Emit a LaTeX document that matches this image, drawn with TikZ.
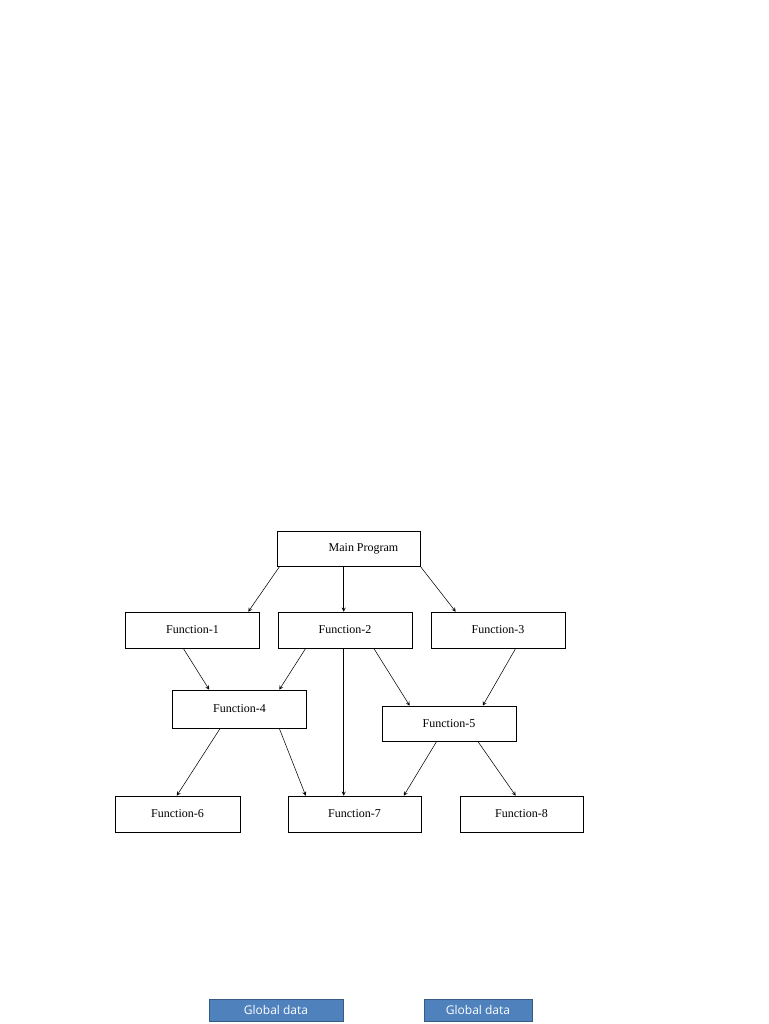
\documentclass[tikz,border=0pt]{standalone}
\usepackage{fontspec}
\setmainfont{Liberation Serif}
\newfontfamily\guifont{Open Sans}
\usetikzlibrary{positioning, calc}
\definecolor{gblue}{RGB}{79,129,189}
\begin{document}
\begin{tikzpicture}[x=0.75pt,y=-0.75pt,
		box/.style={draw,rectangle,minimum width=134*0.75pt,minimum height=36*0.75pt,font=\fontsize{9}{10}\selectfont,inner sep=0pt},
		gdata/.style={draw=gblue!70!black,fill=gblue,text=white,rectangle,minimum height=22*0.75pt,inner sep=0pt,font=\guifont\fontsize{9}{10}\selectfont},
		>=stealth]
		\useasboundingbox (0,0) rectangle (768,1024);
		\node[box,minimum width=143*0.75pt,minimum height=35*0.75pt] (main) at (348.5,548.5) {\hspace*{2.5em}Main Program};
		\node[box] (f1) at (192.5,630) {Function-1};
		\node[box] (f2) at (345,630) {Function-2};
		\node[box] (f3) at (498,630) {Function-3};
		\node[box,minimum height=38*0.75pt] (f4) at (239.5,709) {Function-4};
		\node[box,minimum height=35*0.75pt] (f5) at (449,723.5) {Function-5};
		\node[box,minimum width=125*0.75pt] (f6) at (177.5,814) {Function-6};
		\node[box,minimum width=133*0.75pt] (f7) at (354.5,814) {Function-7};
		\node[box,minimum width=123*0.75pt] (f8) at (521.5,814) {Function-8};
		\node[gdata,minimum width=134*0.75pt] (g1) at (276,1010) {Global data};
		\node[gdata,minimum width=108*0.75pt] (g2) at (478,1010) {Global data};

		\draw[->] ($(main.south west)+(3,0)$) -- ($(f1.north west)+(123,0)$);
		\draw[->] ($(main.south west)+(67,0)$) -- ($(f2.north west)+(66,0)$);
		\draw[->] (main.south east) -- ($(f3.north west)+(25,0)$);
		\draw[->] ($(f1.south west)+(58,0)$) -- ($(f4.north west)+(37,0)$);
		\draw[->] ($(f2.south west)+(28,0)$) -- ($(f4.north west)+(107,0)$);
		\draw[->] ($(f2.south west)+(66,0)$) -- ($(f7.north west)+(56,0)$);
		\draw[->] ($(f2.south west)+(96,0)$) -- ($(f5.north west)+(28,0)$);
		\draw[->] ($(f3.south west)+(85,0)$) -- ($(f5.north west)+(101,0)$);
		\draw[->] ($(f4.south west)+(48,0)$) -- ($(f6.north west)+(62,0)$);
		\draw[->] ($(f4.south west)+(107,0)$) -- ($(f7.north west)+(18,0)$);
		\draw[->] ($(f5.south west)+(55,0)$) -- ($(f7.north west)+(116,0)$);
		\draw[->] ($(f5.south west)+(96,0)$) -- ($(f8.north west)+(56,0)$);
\end{tikzpicture}
\end{document}
